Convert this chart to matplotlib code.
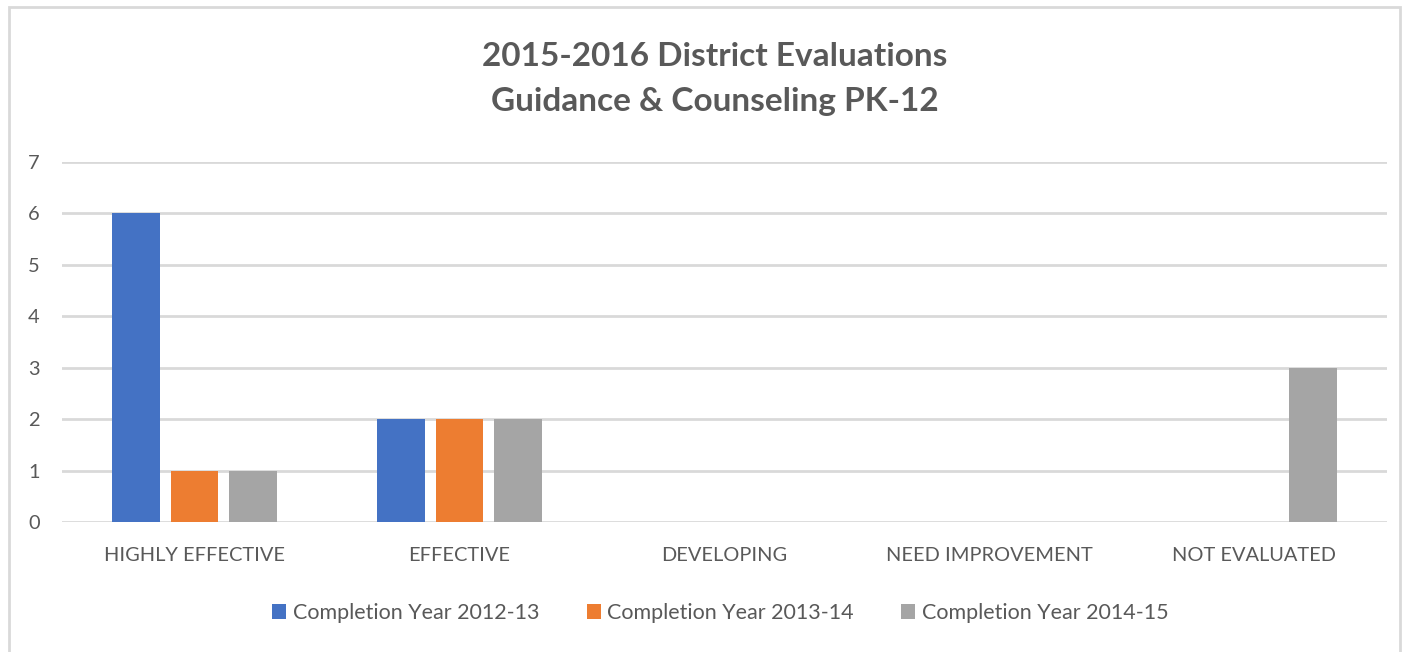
import numpy as np
import matplotlib
matplotlib.use('Agg')
import matplotlib.pyplot as plt
from matplotlib.patches import Rectangle

categorias = ["HIGHLY EFFECTIVE", "EFFECTIVE", "DEVELOPING", "NEED IMPROVEMENT", "NOT EVALUATED"]
series = ["Completion Year 2012-13", "Completion Year 2013-14", "Completion Year 2014-15"]
ano_2012 = [6, 2, 0, 0, 0]
ano_2013 = [1, 2, 0, 0, 0]
ano_2014 = [1, 2, 0, 0, 3]
cores = ["#4472C4", "#ED7D31", "#A5A5A5"]

plt.rcParams['font.family'] = ['Lato', 'DejaVu Sans']
texto = "#595959"

fig = plt.figure(figsize=(14.04, 6.52), dpi=100)
# borda do gráfico
fig.patches.append(Rectangle((9 / 1404, -0.01), 1391 / 1404, 1 - 7 / 652 + 0.01,
                             transform=fig.transFigure, fill=False,
                             edgecolor="#D9D9D9", linewidth=2))

ax = fig.add_axes([62 / 1404, 1 - 522 / 652, 1325 / 1404, 360 / 652])
x = np.arange(len(categorias))
largura = 0.18
passo = 0.22
for i, (vals, nome) in enumerate(zip([ano_2012, ano_2013, ano_2014], series)):
    ax.bar(x + (i - 1) * passo, vals, largura, color=cores[i], label=nome, zorder=3)

ax.set_xlim(-0.5, 4.5)
ax.set_ylim(0, 7)
ax.set_yticks(range(8))
ax.set_xticks(x)
ax.set_xticklabels(categorias)
ax.grid(axis="y", color="#D9D9D9", linewidth=2, zorder=0)
for s in ax.spines.values():
    s.set_visible(False)
ax.tick_params(axis="x", length=0, labelsize=14.4, colors=texto, pad=18)
ax.tick_params(axis="y", length=0, labelsize=14.4, colors=texto, pad=16)

fig.text(0.509, 1 - 56 / 652, "2015-2016 District Evaluations", ha="center", va="center",
         fontsize=24, fontweight="bold", color=texto)
fig.text(0.509, 1 - 102 / 652, "Guidance & Counseling PK-12", ha="center", va="center",
         fontsize=24, fontweight="bold", color=texto)

leg = fig.legend(loc="center", bbox_to_anchor=(0.513, 1 - 613 / 652), ncol=3, frameon=False,
                 fontsize=15.5, handlelength=0.65, handleheight=0.65, handletextpad=0.3,
                 columnspacing=2.2)
for t in leg.get_texts():
    t.set_color(texto)

plt.savefig("out.png", dpi=100)
